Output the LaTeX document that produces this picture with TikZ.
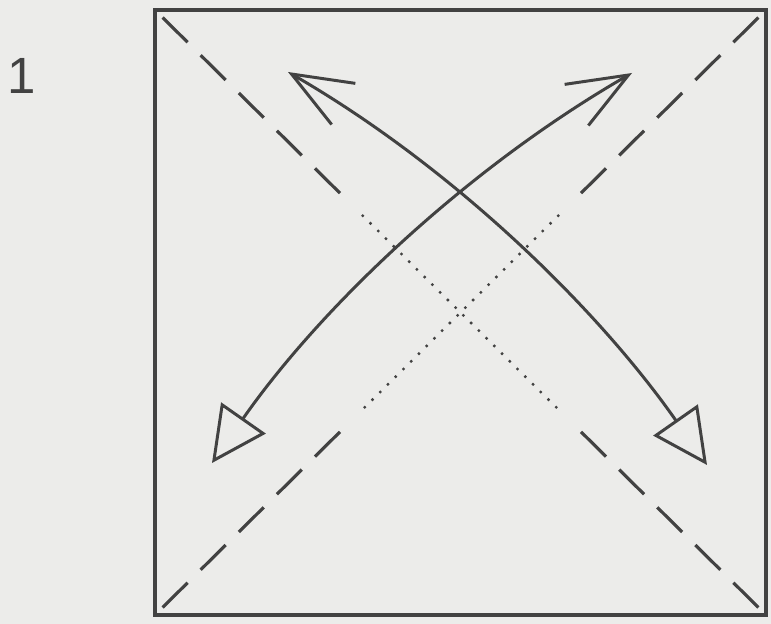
\documentclass[tikz,border=0pt]{standalone}
\usepackage{fontspec}
\newfontfamily\stepfont{Liberation Sans}
\usetikzlibrary{arrows.meta,calc}
\definecolor{paper}{RGB}{236,236,234}
\definecolor{ink}{RGB}{66,66,66}

\begin{document}
\begin{tikzpicture}[
  x=0.02cm, y=-0.02cm,
  edge/.style={draw=ink, line width=2pt},
  fold/.style={draw=ink, line width=1.8pt, dash pattern=on 20pt off 10.5pt},
  hidden/.style={draw=ink, line width=1.9pt, line cap=round, dash pattern=on 0pt off 6.2pt},
  move/.style={draw=ink, line width=1.7pt,
               {Straight Barb[length=1.2cm, width=0.95cm]}-{Triangle[open, length=1.1cm, width=1.08cm]}},
]
% page and paper square
\fill[paper] (0,0) rectangle (771,624);
\useasboundingbox (0,0) rectangle (771,624);
\coordinate (tl) at (155,10);  \coordinate (tr) at (766,10);
\coordinate (bl) at (155,615); \coordinate (br) at (766,615);
\coordinate (c) at ($(tl)!0.5!(br)$);
\draw[edge] (tl) rectangle (br);

% step number
\node[font=\stepfont\fontsize{29}{29}\selectfont, text=ink] (num) at (22,76) {1};

% valley folds: dashed from the corners, dotted near the centre
\foreach \k in {tl,tr,bl,br}
  \draw[fold] ($(\k)!0.025!(c)$) -- ($(\k)!0.63!(c)$);
\draw[hidden] ($(tl)!0.68!(c)$) -- ($(br)!0.68!(c)$);
\draw[hidden] ($(tr)!0.68!(c)$) -- ($(bl)!0.68!(c)$);

% fold-and-unfold arrows
\coordinate (a1) at (288,72);  \coordinate (a2) at (707,465);
\coordinate (b1) at (632,73);  \coordinate (b2) at (212,463);
\draw[move] (a1) .. controls (453,167) and (598,309) .. (a2);
\draw[move] (b1) .. controls (467,168) and (321,307) .. (b2);
\end{tikzpicture}
\end{document}
